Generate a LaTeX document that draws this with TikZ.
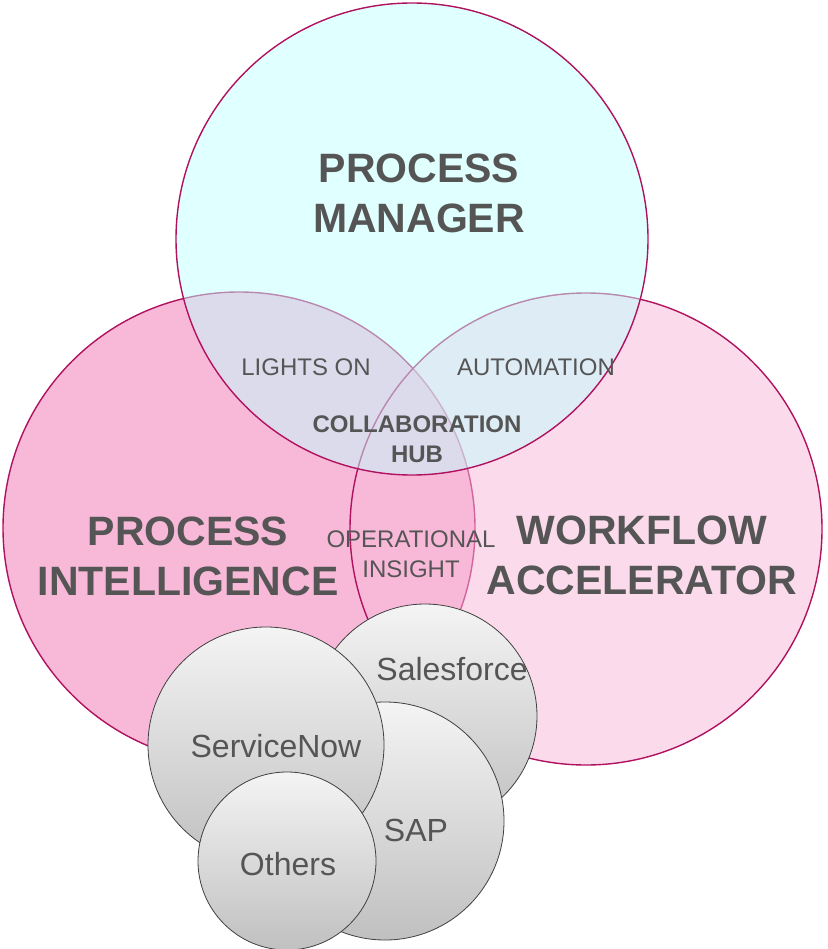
\documentclass[tikz,border=0pt]{standalone}
\usepackage{fontspec}
\setmainfont{Liberation Sans}
\usetikzlibrary{positioning}

\definecolor{rim}{RGB}{176,18,96}
\definecolor{pinkfill}{RGB}{248,184,216}
\definecolor{cyanfill}{RGB}{193,255,255}
\definecolor{txt}{RGB}{85,85,85}
\definecolor{apptop}{RGB}{244,244,244}
\definecolor{appbottom}{RGB}{192,192,192}

\begin{document}
\begin{tikzpicture}[x=1pt, y=-1pt,
                venn node/.style={circle,draw=rim,line width=1.4pt,minimum size=472pt,inner sep=0pt},
                app node/.style={circle,draw=black!75,line width=0.8pt,inner sep=0pt,top color=apptop,bottom color=appbottom},
                big label/.style={text=txt,align=center,font=\fontsize{41}{50}\selectfont\bfseries,anchor=base},
                small label/.style={text=txt,align=center,font=\fontsize{24}{30}\selectfont,anchor=base},
                app label/.style={text=txt,font=\fontsize{32}{38}\selectfont,anchor=base}]

      \useasboundingbox (0,0) rectangle (827,949);

      \node[venn node, fill=pinkfill] (PI) at (239,528) {};
      \node[venn node, fill=pinkfill, fill opacity=0.5] (WA) at (586,529) {};
      \node[venn node, fill=cyanfill, fill opacity=0.5] (PM) at (412,239) {};

      \node[app node, minimum size=224pt] (SF) at (425,716) {};
      \node[app node, minimum size=238pt] (SAP) at (385,821) {};
      \node[app node, minimum size=236pt] (SN) at (266,745) {};
      \node[app node, minimum size=178pt] (OT) at (287,861) {};

      \node[big label] (PMtext) at (419,233) {PROCESS\\MANAGER};
      \node[big label] (PItext) at (188,595) {PROCESS\\INTELLIGENCE};
      \node[big label] (WAtext) at (642,594) {WORKFLOW\\ACCELERATOR};

      \node[small label] (lights) at (306,375) {LIGHTS ON};
      \node[small label] (auto) at (536,375) {AUTOMATION};
      \node[small label, font=\fontsize{24}{30}\selectfont\bfseries] (hub) at (417,462) {COLLABORATION\\HUB};
      \node[small label] (insight) at (411,577) {OPERATIONAL\\INSIGHT};

      \node[app label] (SFtext) at (452,680) {Salesforce};
      \node[app label] (SNtext) at (276,757) {ServiceNow};
      \node[app label] (SAPtext) at (416,841) {SAP};
      \node[app label] (OTtext) at (288,875) {Others};
  \end{tikzpicture}
\end{document}
